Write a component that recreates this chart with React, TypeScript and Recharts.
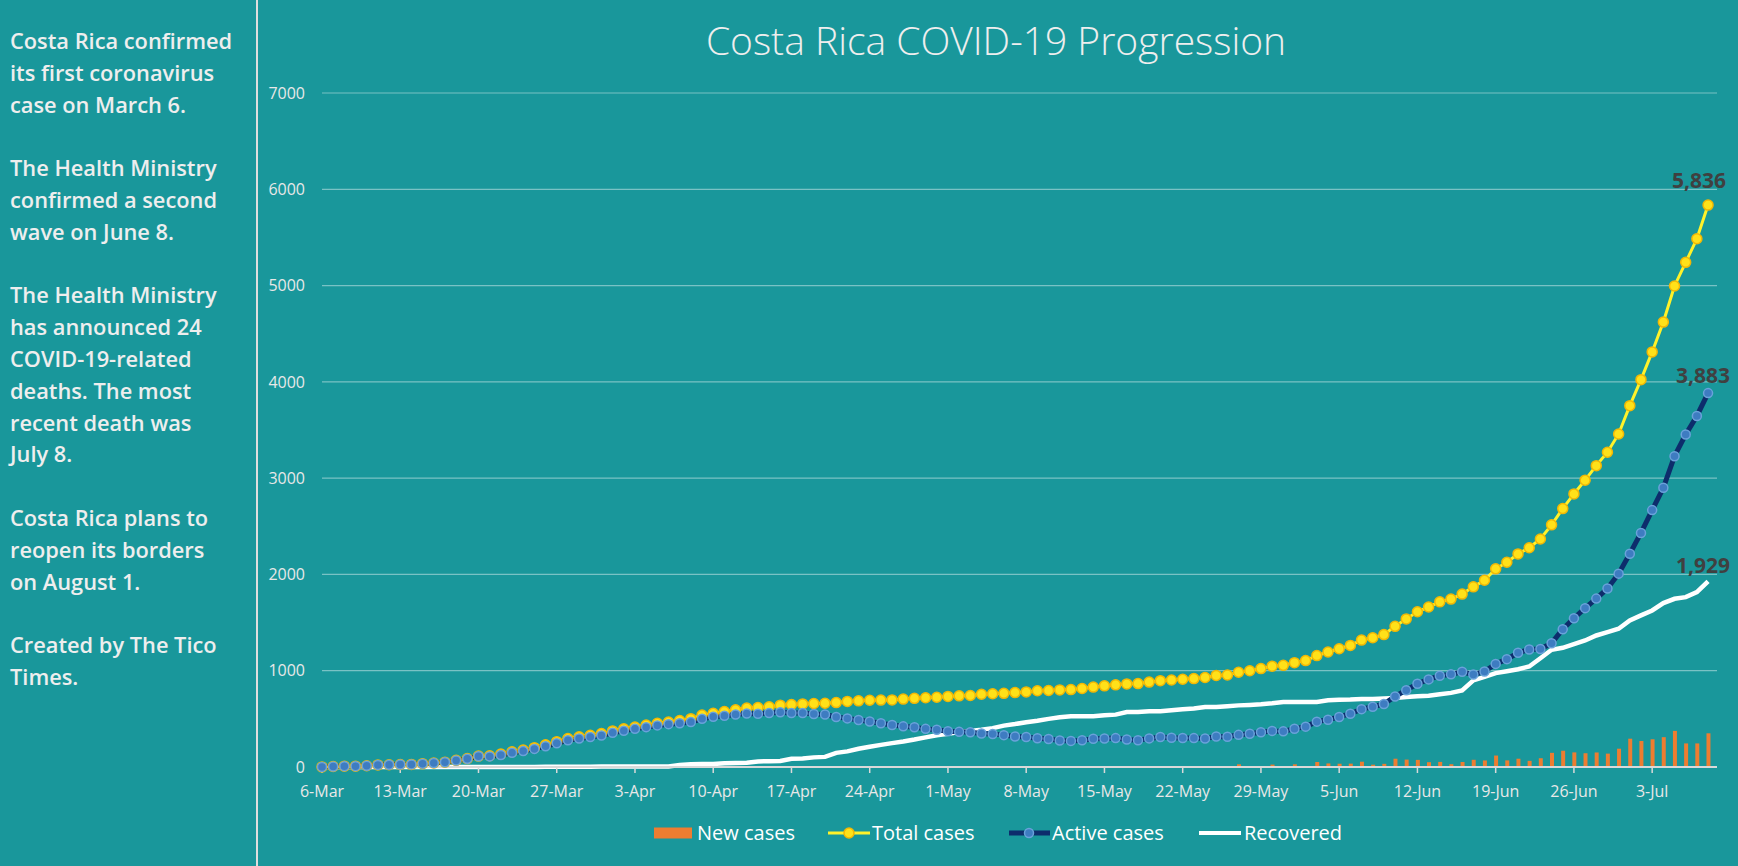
import { ComposedChart, Bar, Line, XAxis, YAxis, CartesianGrid, LabelList } from "recharts"

const W = 1738
const H = 866
const BG = "#19979b"
const FONT = "'Open Sans', sans-serif"
const C = { newCases: "#ed7d31", total: "#fff22a", totalDot: "#ffe119", totalEdge: "#f2b705", active: "#0d2d6c", activeDot: "#3e7cc1", activeEdge: "#6aa2da", recovered: "#ffffff" }

// one point per day, 6-Mar (day 0) to 8-Jul (day 124)
const tickDays = [0, 7, 14, 21, 28, 35, 42, 49, 56, 63, 70, 77, 84, 91, 98, 105, 112, 119]
const tickLabels = ["6-Mar", "13-Mar", "20-Mar", "27-Mar", "3-Apr", "10-Apr", "17-Apr", "24-Apr", "1-May", "8-May", "15-May", "22-May", "29-May", "5-Jun", "12-Jun", "19-Jun", "26-Jun", "3-Jul"]
const yTicks = [0, 1000, 2000, 3000, 4000, 5000, 6000, 7000]

const totalCases = [
  1, 5, 9, 9, 13, 22, 23, 26, 27, 35,
  41, 50, 69, 87, 113, 117, 134, 158, 177, 201,
  231, 263, 295, 314, 330, 347, 375, 396, 416, 435,
  454, 467, 483, 502, 539, 558, 577, 595, 612, 618,
  626, 642, 649, 655, 660, 662, 669, 681, 687, 693,
  695, 697, 705, 713, 719, 725, 733, 739, 742, 755,
  761, 765, 773, 780, 792, 794, 801, 804, 815, 830,
  843, 853, 863, 866, 882, 897, 903, 911, 918, 930,
  951, 956, 984, 1000, 1022, 1047, 1056, 1084, 1105, 1157,
  1194, 1228, 1263, 1318, 1342, 1375, 1461, 1538, 1612, 1662,
  1715, 1744, 1796, 1871, 1939, 2058, 2127, 2213, 2277, 2368,
  2515, 2684, 2836, 2979, 3130, 3269, 3459, 3753, 4023, 4311,
  4621, 4996, 5241, 5486, 5836,
]

const activeCases = [
  1, 5, 9, 9, 13, 22, 23, 26, 27, 35,
  41, 50, 68, 86, 112, 110, 125, 148, 165, 188,
  215, 246, 278, 296, 312, 328, 355, 377, 396, 414,
  432, 445, 455, 468, 501, 522, 532, 546, 556, 553,
  560, 568, 560, 560, 550, 545, 520, 505, 488, 472,
  455, 437, 422, 412, 396, 386, 372, 365, 360, 348,
  342, 331, 317, 311, 298, 290, 276, 271, 277, 294,
  296, 300, 285, 278, 297, 312, 303, 301, 300, 296,
  317, 315, 334, 345, 360, 375, 370, 398, 419, 471,
  491, 520, 553, 601, 625, 654, 733, 798, 865, 910,
  948, 962, 989, 960, 992, 1071, 1120, 1186, 1221, 1226,
  1286, 1431, 1545, 1650, 1749, 1854, 2008, 2214, 2431, 2668,
  2900, 3228, 3454, 3646, 3883,
]

const recovered = [
  0, 0, 0, 0, 0, 0, 0, 0, 0, 0,
  0, 0, 0, 0, 0, 0, 0, 0, 0, 0,
  2, 2, 2, 3, 3, 4, 4, 4, 6, 6,
  6, 6, 20, 28, 32, 32, 40, 42, 45, 58,
  60, 62, 86, 88, 100, 105, 147, 162, 190, 210,
  230, 248, 265, 285, 308, 330, 345, 362, 375, 386,
  404, 430, 446, 465, 481, 500, 516, 526, 526, 526,
  537, 544, 571, 571, 578, 578, 590, 600, 608, 624,
  624, 631, 640, 645, 652, 662, 676, 676, 676, 676,
  693, 698, 700, 707, 707, 711, 716, 728, 735, 740,
  755, 770, 795, 899, 935, 975, 995, 1015, 1044, 1130,
  1217, 1238, 1276, 1314, 1366, 1400, 1436, 1522, 1575, 1626,
  1702, 1747, 1764, 1816, 1929,
]

// new cases only shown from 27-May (day 82)
const newCasesStart = 82
const newCases = [
  28, null, null, 25, null, 28, null, 52,
  37, 34, 35, 55, 24, 33, 86, 77, 74, 50,
  53, 29, 52, 75, 68, 119, 69, 86, 64, 91,
  147, 169, 152, 143, 151, 139, 190, 294, 270, 288,
  310, 375, 245, 245, 350,
]

const notes = [
  ["Costa Rica confirmed", "its first coronavirus", "case on March 6."],
  ["The Health Ministry", "confirmed a second", "wave on June 8."],
  ["The Health Ministry", "has announced 24", "COVID-19-related", "deaths. The most", "recent death was", "July 8."],
  ["Costa Rica plans to", "reopen its borders", "on August 1."],
  ["Created by The Tico", "Times."],
]

const rows = totalCases.map((t, i) => ({
  day: i,
  total: t,
  active: activeCases[i],
  recovered: recovered[i],
  newCases: i >= newCasesStart ? newCases[i - newCasesStart] : null,
}))
const LAST = rows.length - 1

// value label above the last point only
function endLabel(dx: number, dy: number, weight: number) {
  return (p: any) => {
    if (p.index !== LAST || p.value == null) return null
    const cx = p.x + (p.width || 0) / 2
    return (
      <text x={cx + dx} y={p.y + dy} textAnchor="middle" fontFamily={FONT} fontSize={21} fontWeight={weight} fill="#404040">
        {Number(p.value).toLocaleString("en-US")}
      </text>
    )
  }
}

function Overlay() {
  let slot = 0
  const lines: { t: string; y: number }[] = []
  notes.forEach((para) => {
    para.forEach((t) => { lines.push({ t, y: 49 + slot * 31.8 }); slot++ })
    slot++
  })
  const legendY = 833
  const txt = { fontFamily: FONT, fontSize: 20, fill: "#ffffff" }
  return (
    <svg width={W} height={H} style={{ position: "absolute", left: 0, top: 0, pointerEvents: "none" }}>
      <line x1={257} x2={257} y1={0} y2={H} stroke="#dedede" strokeWidth={2} />
      {lines.map((l, i) => (
        <text key={i} x={10} y={l.y} fontFamily={FONT} fontSize={21.8} fontWeight={600} fill="#eeeeee">{l.t}</text>
      ))}
      <text x={996} y={55} textAnchor="middle" fontFamily={FONT} fontSize={39} fontWeight={300} fill="#eeeeee">
        Costa Rica COVID-19 Progression
      </text>

      <rect x={654} y={legendY - 5.5} width={38} height={11} fill={C.newCases} />
      <text x={697} y={legendY + 7} {...txt}>New cases</text>

      <line x1={828} x2={870} y1={legendY} y2={legendY} stroke={C.total} strokeWidth={3} />
      <circle cx={849} cy={legendY} r={5} fill={C.totalDot} stroke={C.totalEdge} strokeWidth={1.5} />
      <text x={872} y={legendY + 7} {...txt}>Total cases</text>

      <line x1={1009} x2={1050} y1={legendY} y2={legendY} stroke={C.active} strokeWidth={5} />
      <circle cx={1029} cy={legendY} r={4.5} fill={C.activeDot} stroke={C.activeEdge} strokeWidth={1.5} />
      <text x={1052} y={legendY + 7} {...txt}>Active cases</text>

      <line x1={1199} x2={1241} y1={legendY} y2={legendY} stroke={C.recovered} strokeWidth={4} />
      <text x={1244} y={legendY + 7} {...txt}>Recovered</text>
    </svg>
  )
}

export default function App() {
  const tick = { fill: "#e8e8e8", fontSize: 16, fontFamily: FONT }
  return (
    <div style={{ position: "absolute", left: 0, top: 0, width: W, height: H, background: BG, overflow: "hidden" }}>
      <ComposedChart width={W} height={H} data={rows} margin={{ top: 93, right: 21, bottom: 59, left: 262 }}>
        <CartesianGrid vertical={false} stroke="rgba(255,255,255,0.42)" strokeWidth={1.2} />
        <XAxis
          dataKey="day"
          type="number"
          domain={[0, 124.8]}
          ticks={tickDays}
          interval={0}
          tickFormatter={(d: number) => tickLabels[tickDays.indexOf(d)]}
          height={40}
          tickSize={6}
          tickMargin={13}
          tick={tick}
          axisLine={{ stroke: "#d9d9d9", strokeWidth: 2 }}
          tickLine={{ stroke: "#d9d9d9", strokeWidth: 1.5 }}
        />
        <YAxis
          domain={[0, 7000]}
          ticks={yTicks}
          width={60}
          tickSize={6}
          tickMargin={11}
          axisLine={false}
          tickLine={false}
          tick={tick}
        />
        <Bar dataKey="newCases" fill={C.newCases} barSize={4} isAnimationActive={false}>
          <LabelList dataKey="newCases" content={endLabel(1, -16, 400)} />
        </Bar>
        <Line dataKey="recovered" type="linear" stroke={C.recovered} strokeWidth={4.5} dot={false} isAnimationActive={false}>
          <LabelList dataKey="recovered" content={endLabel(-5, -8, 700)} />
        </Line>
        <Line
          dataKey="total"
          type="linear"
          stroke={C.total}
          strokeWidth={3}
          dot={{ r: 5, fill: C.totalDot, stroke: C.totalEdge, strokeWidth: 1.5 }}
          isAnimationActive={false}
        >
          <LabelList dataKey="total" content={endLabel(-9, -17, 700)} />
        </Line>
        <Line
          dataKey="active"
          type="linear"
          stroke={C.active}
          strokeWidth={5}
          dot={{ r: 4.5, fill: C.activeDot, stroke: C.activeEdge, strokeWidth: 1.5 }}
          isAnimationActive={false}
        >
          <LabelList dataKey="active" content={endLabel(-5, -10, 700)} />
        </Line>
      </ComposedChart>
      <Overlay />
    </div>
  )
}
